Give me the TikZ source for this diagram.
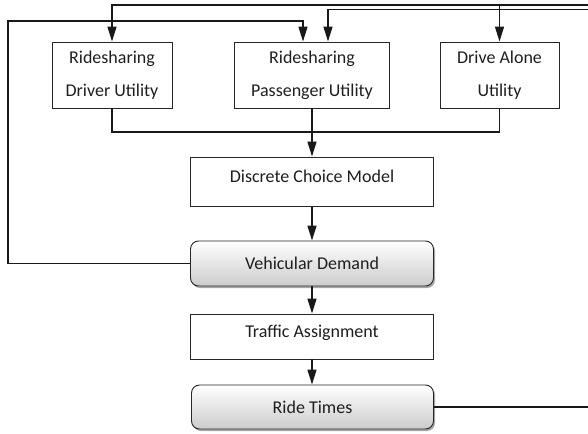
\documentclass[tikz,border=0pt]{standalone}
\usepackage{fontspec}
\setmainfont{Carlito}
\usetikzlibrary{arrows.meta,shadows,calc}

\tikzset{
  boxfont/.style={font=\fontsize{18}{33}\selectfont, text=black!88},
  box/.style={draw=black!85, line width=0.9pt, fill=white, inner sep=0pt,
              align=center, boxfont},
  rbox/.style={box, rounded corners=8pt, top color=white, bottom color=black!20,
               drop shadow={shadow xshift=1.5pt, shadow yshift=-2pt, opacity=0.35, fill=black}},
  link/.style={line width=1.4pt, draw=black!90},
  arr/.style={link, -{Triangle[length=15pt, width=9pt]}},
}

\begin{document}
\begin{tikzpicture}[x=1pt, y=-1pt]
  \useasboundingbox (0,0) rectangle (588,433);

  % utility boxes
  \node[box, minimum width=120pt, minimum height=66pt] (drv) at (112,75)
       {Ridesharing\\Driver Utility};
  \node[box, minimum width=155pt, minimum height=66pt] (pas) at (312,75)
       {Ridesharing\\Passenger Utility};
  \node[box, minimum width=119pt, minimum height=66pt] (alone) at (499.5,75)
       {Drive Alone\\Utility};

  % main chain
  \node[box, minimum width=243pt, minimum height=49pt,
        label={[name=dcmtext, yshift=5pt, boxfont]center:Discrete Choice Model}]
       (dcm) at (312,181.5) {};
  \node[rbox, minimum width=243pt, minimum height=45pt] (vd) at (312,263.5)
       {Vehicular Demand};
  \node[box, minimum width=243pt, minimum height=45pt,
        label={[name=tatext, yshift=3.5pt, boxfont]center:Traffic Assignment}]
       (ta) at (312,336.5) {};
  \node[rbox, minimum width=242pt, minimum height=44pt] (rt) at (312.5,407)
       {Ride Times};

  % loose ends and bends
  \coordinate (e1) at (588,5);
  \coordinate (e2) at (588,9.5);
  \coordinate (e3) at (588,407);
  \coordinate (lt) at (8,21);
  \coordinate (m) at (499.5,132);

  % feedback lines into the utilities
  \draw[arr] (e1) -| (drv.north);
  \draw[arr] (alone.north |- e1) -- (alone.north);
  \draw[arr] (e2) -| ([xshift=16pt]pas.north);
  \draw[arr] (vd.west) -| (lt) -| ([xshift=-9pt]pas.north);

  % utilities merge into the choice model
  \draw[link] (drv.south) |- (m) -- (alone.south);
  \draw[arr] (pas.south) -- (dcm.north);

  % chain
  \draw[arr] (dcm.south) -- (vd.north);
  \draw[arr] (vd.south) -- (ta.north);
  \draw[arr] (ta.south) -- (rt.north -| ta.south);
  \draw[link] (rt.east) -- (e3);
\end{tikzpicture}
\end{document}
